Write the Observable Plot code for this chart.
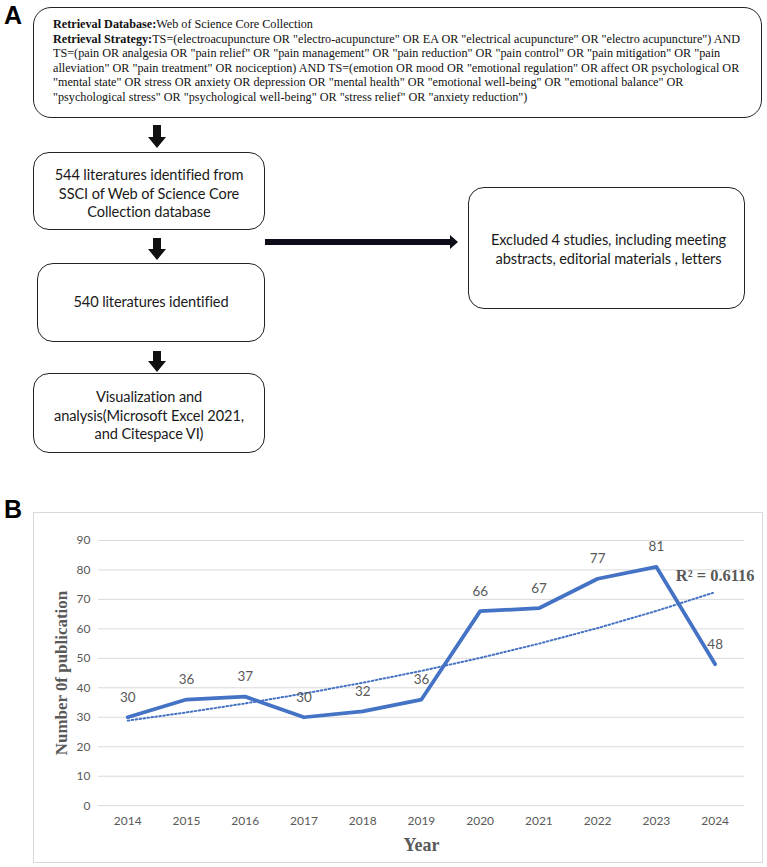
<!DOCTYPE html>
<html>
<head>
<meta charset="utf-8">
<script src="https://cdn.jsdelivr.net/npm/d3@7"></script>
<script src="https://cdn.jsdelivr.net/npm/@observablehq/plot@0.6"></script>
<style>
  html, body { margin: 0; padding: 0; background: #fff; }
  #page { position: relative; width: 767px; height: 867px; overflow: hidden; }
  .panel-label { position: absolute; font: bold 25px "Liberation Sans", Arial, sans-serif; color: #000; line-height: 1; }
  .box { position: absolute; box-sizing: border-box; border: 1.5px solid #222; border-radius: 16px; background: #fff; }
  .serif { position: absolute; font: 12.2px "Liberation Serif", "Times New Roman", serif; line-height: 14.5px; color: #111; white-space: nowrap; }
  .sans { position: absolute; font: 14.6px Lato, "Open Sans", sans-serif; letter-spacing: -0.12px; line-height: 18.5px; color: #1a1a1a; text-align: center; white-space: nowrap; }
  #chartB { position: absolute; left: 33px; top: 512px; width: 730px; height: 351px; box-sizing: border-box; border: 1px solid #d9d9d9; }
  #chartB svg { position: absolute; left: -1px; top: -1px; }
  #chartB g[aria-label="y-axis label"] text { font: bold 17px "Liberation Serif", serif; fill: #595959; }
  #chartB g[aria-label="x-axis label"] text { font: bold 18px "Liberation Serif", serif; fill: #595959; }
  #chartB g[aria-label="y-axis tick label"] text,
  #chartB g[aria-label="x-axis tick label"] text { font: 12px Lato, sans-serif; fill: #595959; }
</style>
</head>
<body>
<div id="page">
  <div class="panel-label" style="left:4px; top:3px;">A</div>
  <div class="box" style="left:33px; top:7px; width:729px; height:111px; border-radius:18px;"></div>
  <div class="serif" id="strategy" style="left:53px; top:17px;"></div>

  <div class="box" style="left:33px; top:152px; width:232px; height:78px;"></div>
  <div class="sans" id="t1" style="left:33px; top:166px; width:232px;"></div>
  <div class="box" style="left:37px; top:263px; width:228px; height:79px;"></div>
  <div class="sans" id="t2" style="left:37px; top:293px; width:228px;"></div>
  <div class="box" style="left:33px; top:373px; width:232px; height:80px;"></div>
  <div class="sans" id="t3" style="left:33px; top:388px; width:232px;"></div>
  <div class="box" style="left:468px; top:187px; width:277px; height:122px;"></div>
  <div class="sans" id="t4" style="left:470px; top:231px; width:277px;"></div>

  <svg id="arrows" width="767" height="470" style="position:absolute;left:0;top:0;"></svg>

  <div class="panel-label" style="left:4px; top:497px;">B</div>
  <div id="chartB"></div>
</div>
<script>
// ---- Panel A text ----
const strategyLines = [
  ['Retrieval Database:', 'Web of Science Core Collection'],
  ['Retrieval Strategy:', 'TS=(electroacupuncture OR "electro-acupuncture" OR EA OR "electrical acupuncture" OR "electro acupuncture") AND'],
  ['', 'TS=(pain OR analgesia OR "pain relief" OR "pain management" OR "pain reduction" OR "pain control" OR "pain mitigation" OR "pain'],
  ['', 'alleviation" OR "pain treatment" OR nociception) AND TS=(emotion OR mood OR "emotional regulation" OR affect OR psychological OR'],
  ['', '"mental state" OR stress OR anxiety OR depression OR "mental health" OR "emotional well-being" OR "emotional balance" OR'],
  ['', '"psychological stress" OR "psychological well-being" OR "stress relief" OR "anxiety reduction")']
];
const box1Lines = ["544 literatures identified from", "SSCI of Web of Science Core", "Collection database"];
const box2Lines = ["540 literatures identified"];
const box3Lines = ["Visualization and", "analysis(Microsoft Excel 2021,", "and Citespace VI)"];
const box4Lines = ["Excluded 4 studies, including meeting", "abstracts, editorial materials , letters"];

const st = d3.select("#strategy");
strategyLines.forEach(([b, t]) => {
  const div = st.append("div");
  if (b) div.append("b").text(b);
  div.append("span").text(t);
});
function fill(id, lines) { const s = d3.select(id); lines.forEach(l => s.append("div").text(l)); }
fill("#t1", box1Lines); fill("#t2", box2Lines); fill("#t3", box3Lines); fill("#t4", box4Lines);

// flowchart arrows (decoration)
const arr = d3.select("#arrows");
function down(y0, y1) {
  const cx = 157, hs = 4, hh = 9, head = 11;
  arr.append("polygon").attr("fill", "#111").attr("points",
    [[cx-hs,y0],[cx+hs,y0],[cx+hs,y1-head],[cx+hh,y1-head],[cx,y1],[cx-hh,y1-head],[cx-hs,y1-head]].map(p=>p.join(",")).join(" "));
}
down(125, 148); down(238, 260); down(351, 372);
arr.append("polygon").attr("fill", "#0d0d1a").attr("points",
  [[265,239],[450,239],[450,235],[458,242],[450,249],[450,245],[265,245]].map(p=>p.join(",")).join(" "));

// ---- Panel B data ----
const years = ["2014","2015","2016","2017","2018","2019","2020","2021","2022","2023","2024"];
const counts = [30, 36, 37, 30, 32, 36, 66, 67, 77, 81, 48];
const yTicks = [0, 10, 20, 30, 40, 50, 60, 70, 80, 90];
const r2Label = "R² = 0.6116";

const data = years.map((year, i) => ({year, count: counts[i], idx: i + 1}));
// Excel-style exponential trendline: least squares fit of ln(y) on x
const mx = d3.mean(data, d => d.idx), my = d3.mean(data, d => Math.log(d.count));
const b = d3.sum(data, d => (d.idx - mx) * (Math.log(d.count) - my)) / d3.sum(data, d => (d.idx - mx) ** 2);
const a = my - b * mx;
const trend = data.map(d => ({year: d.year, value: Math.exp(a + b * d.idx)}));

const chart = Plot.plot({
  width: 730, height: 350,
  marginLeft: 65, marginRight: 17, marginTop: 28, marginBottom: 56,
  style: {background: "transparent", overflow: "visible"},
  x: {type: "point", domain: years, padding: 0.5, round: false},
  y: {domain: [0, 90]},
  marks: [
    Plot.gridY(yTicks, {stroke: "#d9d9d9", strokeOpacity: 1, strokeWidth: 1}),
    Plot.axisY(yTicks, {tickSize: 0, tickPadding: 8, label: "Number 0f publication", labelAnchor: "center", labelOffset: 43, labelArrow: "none"}),
    Plot.axisX({tickSize: 0, tickPadding: 11, label: "Year", labelAnchor: "center", labelOffset: 45, labelArrow: "none"}),
    Plot.line(trend, {x: "year", y: "value", stroke: "#4472C4", strokeWidth: 2, strokeDasharray: "1.6,2.4"}),
    Plot.line(data, {x: "year", y: "count", stroke: "#4472C4", strokeWidth: 3.75}),
    Plot.text(data, {x: "year", y: "count", text: d => String(d.count), dy: -20, fill: "#595959", fontSize: 13.5, fontFamily: "Lato"}),
    Plot.text(trend.slice(-1), {x: "year", y: "value", text: () => r2Label, dy: -16, fill: "#595959", fontSize: 16.5, fontWeight: "bold", fontFamily: "Liberation Serif"})
  ]
});
document.getElementById("chartB").appendChild(chart);
</script>
</body>
</html>
